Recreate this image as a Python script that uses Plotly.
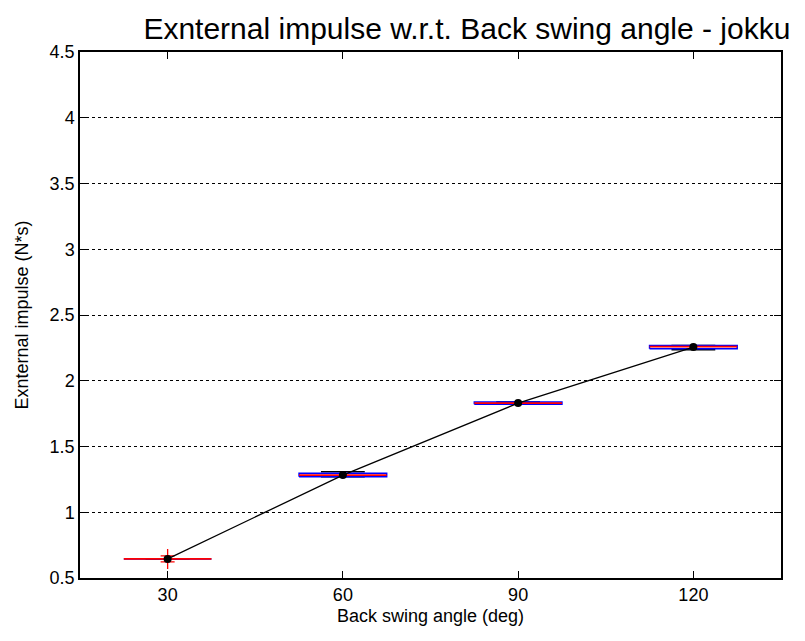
import plotly.graph_objects as go

# ---- data ----
angles = [30, 60, 90, 120]
tick_labels = ["30", "60", "90", "120"]
means = [0.645, 1.283, 1.83, 2.256]
q1 = [0.645, 1.270, 1.822, 2.244]
medians = [0.645, 1.283, 1.83, 2.259]
q3 = [0.645, 1.297, 1.838, 2.268]
whisk_lo = [0.645, 1.270, 1.822, 2.236]
whisk_hi = [0.645, 1.308, 1.838, 2.268]
outlier_x = [30, 30]
outlier_y = [0.668, 0.622]

# ---- style ----
BOX_HALF = 7.5
CAP_HALF = 3.75

fig = go.Figure()

for i, a in enumerate(angles):
    # whiskers (dashed)
    fig.add_trace(go.Scatter(x=[a, a], y=[q3[i], whisk_hi[i]], mode="lines",
                             line=dict(color="black", width=1, dash="dash"), hoverinfo="skip"))
    fig.add_trace(go.Scatter(x=[a, a], y=[whisk_lo[i], q1[i]], mode="lines",
                             line=dict(color="black", width=1, dash="dash"), hoverinfo="skip"))
    # caps
    fig.add_trace(go.Scatter(x=[a - CAP_HALF, a + CAP_HALF], y=[whisk_hi[i], whisk_hi[i]], mode="lines",
                             line=dict(color="black", width=1.5), hoverinfo="skip"))
    fig.add_trace(go.Scatter(x=[a - CAP_HALF, a + CAP_HALF], y=[whisk_lo[i], whisk_lo[i]], mode="lines",
                             line=dict(color="black", width=1.5), hoverinfo="skip"))
    # box
    fig.add_trace(go.Scatter(x=[a - BOX_HALF, a + BOX_HALF, a + BOX_HALF, a - BOX_HALF, a - BOX_HALF],
                             y=[q1[i], q1[i], q3[i], q3[i], q1[i]], mode="lines",
                             line=dict(color="blue", width=1.5), hoverinfo="skip"))
    # median
    fig.add_trace(go.Scatter(x=[a - BOX_HALF, a + BOX_HALF], y=[medians[i], medians[i]], mode="lines",
                             line=dict(color="red", width=1.8), hoverinfo="skip"))

# outliers
fig.add_trace(go.Scatter(x=outlier_x, y=outlier_y, mode="markers",
                         marker=dict(symbol="cross-thin", size=10, line=dict(color="red", width=1.3)),
                         hoverinfo="skip"))

# mean line
fig.add_trace(go.Scatter(x=angles, y=means, mode="lines+markers",
                         line=dict(color="black", width=1.3),
                         marker=dict(color="black", size=8)))

FONT = "Liberation Sans, Arial, sans-serif"
axis_font = dict(family=FONT, size=18, color="black")

fig.update_layout(
    width=805, height=641,
    margin=dict(l=80, r=24, t=52, b=63),
    paper_bgcolor="white", plot_bgcolor="white",
    showlegend=False,
    title=dict(text="Exnternal impulse w.r.t. Back swing angle - jokku",
               font=dict(family=FONT, size=30, color="black"),
               x=0.58, xanchor="center", y=0.955, yanchor="middle"),
    font=axis_font,
)

fig.update_xaxes(
    range=[15, 135], tickmode="array", tickvals=angles, ticktext=tick_labels,
    showgrid=False, zeroline=False, showline=True, linecolor="black", linewidth=1.5,
    mirror="ticks", ticks="inside", ticklen=7, tickcolor="black",
    title=dict(text="Back swing angle (deg)", font=axis_font, standoff=5),
    tickfont=axis_font,
)
fig.update_yaxes(
    range=[0.5, 4.5], tickmode="array", tickvals=[0.5, 1, 1.5, 2, 2.5, 3, 3.5, 4, 4.5],
    ticktext=["0.5", "1", "1.5", "2", "2.5", "3", "3.5", "4", "4.5"],
    showgrid=True, gridcolor="black", gridwidth=1, griddash="dot",
    zeroline=False, showline=True, linecolor="black", linewidth=1.5,
    mirror="ticks", ticks="inside", ticklen=7, tickcolor="black",
    title=dict(text="Exnternal impulse (N*s)", font=axis_font, standoff=16),
    tickfont=axis_font,
)

fig.write_html("out.html")
